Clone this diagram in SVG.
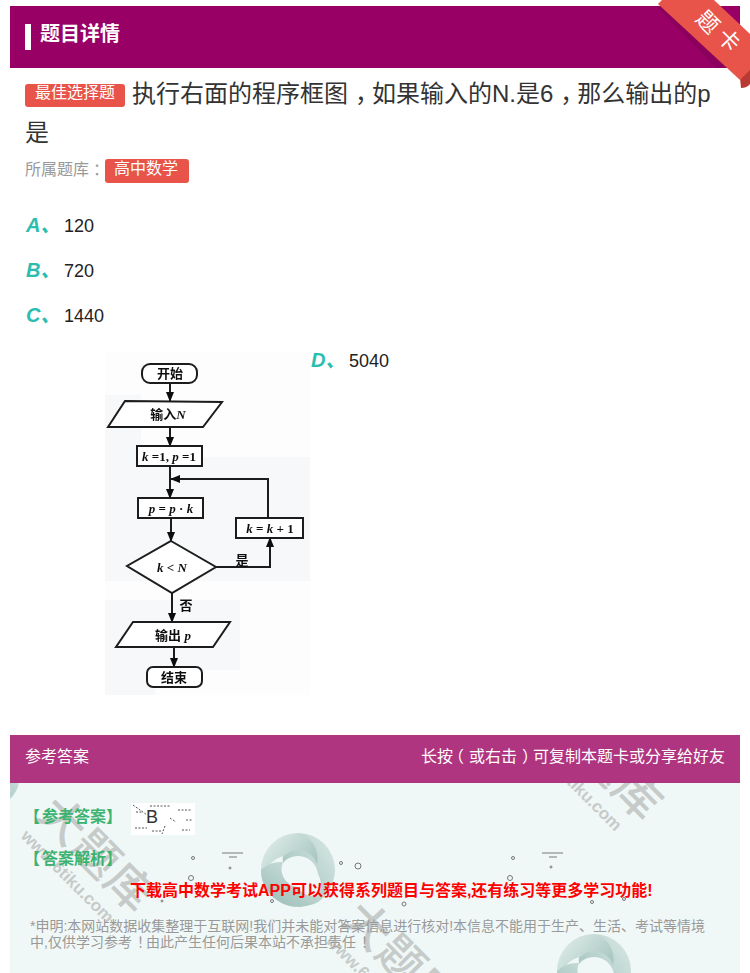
<svg xmlns="http://www.w3.org/2000/svg" width="750" height="973" viewBox="0 0 750 973">
<style>
text{font-family:"Liberation Sans","Noto Sans CJK SC",sans-serif}
.opt{font-size:20px;font-weight:bold;font-style:italic;fill:#2bbdb0}
.val{font-size:18px;fill:#222}
.fc{font-family:"Liberation Serif","Noto Sans CJK SC",serif;font-size:13px;font-weight:bold;fill:#111;text-anchor:middle}
.sh{fill:#fff;stroke:#1d1d1d;stroke-width:2}
.cn{fill:none;stroke:#1d1d1d;stroke-width:2}
.grn{font-size:16px;font-weight:bold;fill:#3cb371}
.gry{font-size:14px;fill:#999}
.wm{fill:#c6cbca}
</style>
<defs>
<marker id="ah" viewBox="0 0 10 10" refX="9" refY="5" markerWidth="10" markerHeight="10" markerUnits="userSpaceOnUse" orient="auto"><path d="M0 1L10 5L0 9z" fill="#111"/></marker>
<filter id="soft" x="-5%" y="-5%" width="110%" height="110%"><feGaussianBlur stdDeviation="0.55"/></filter>
<linearGradient id="lg1" x1="0" y1="0" x2="1" y2="1"><stop offset="0" stop-color="#e4f1ee"/><stop offset="1" stop-color="#8fb3ac"/></linearGradient>
<linearGradient id="lg2" x1="1" y1="0" x2="0" y2="1"><stop offset="0" stop-color="#dbeae7"/><stop offset="1" stop-color="#97bab3"/></linearGradient>
<clipPath id="panel"><rect x="10" y="783" width="730" height="190"/></clipPath>
<clipPath id="hdr"><rect x="10" y="6" width="730" height="62"/></clipPath>
<g id="logo">
<path d="M0-37A37 37 0 0 1 37 0A37 37 0 0 1 8 36A22 22 0 0 0 20 4A20 20 0 0 0 -15-7A30 30 0 0 1 0-37z" fill="url(#lg2)"/>
<path d="M0-37A37 37 0 0 0 -37 0A37 37 0 0 0 -22 30A24 24 0 0 1 -14-14A20 20 0 0 1 19-6A26 26 0 0 0 0-37z" fill="url(#lg1)"/>
<path d="M-37 0A37 37 0 0 0 8 36A30 30 0 0 0 30 22A22 22 0 0 1 -1 17A18 18 0 0 1 -15-8A28 28 0 0 0 -37 0z" fill="url(#lg2)"/>
</g>
<g id="wmk">
<text class="wm" font-size="46" font-weight="500" transform="rotate(45 35 816)" x="35" y="816" letter-spacing="1">大题库</text>
<text class="wm" font-size="17" font-weight="bold" transform="rotate(45 20 837)" x="20" y="837">www.6tiku.com</text>
</g>
</defs>

<rect width="750" height="973" fill="#fff"/>

<g id="header">
<rect x="10" y="6" width="730" height="62" fill="#990066"/>
<rect x="25" y="24" width="6" height="26" fill="#fff"/>
<text x="40" y="41" font-size="20" font-weight="bold" fill="#fff">题目详情</text>
</g>

<g id="question">
<rect x="25" y="84" width="100" height="23" rx="3" fill="#e8534a"/>
<text x="35" y="98" font-size="16" fill="#fff">最佳选择题</text>
<text x="132" y="102" font-size="24" fill="#333">执行右面的程序框图<tspan dx="7" letter-spacing="-7">，</tspan>如果输入的N.是6<tspan dx="7" letter-spacing="-7">，</tspan>那么输出的p</text>
<text x="25" y="141" font-size="24" fill="#333">是</text>
<text x="25" y="175" font-size="16" fill="#999">所属题库<tspan dx="4">：</tspan></text>
<rect x="105" y="159" width="84" height="24" rx="3" fill="#e8534a"/>
<text x="114" y="174" font-size="16" fill="#fff">高中数学</text>
</g>

<g id="options">
<text class="opt" x="26" y="232">A、</text><text class="val" x="64" y="232">120</text>
<text class="opt" x="26" y="277">B、</text><text class="val" x="64" y="277">720</text>
<text class="opt" x="26" y="322">C、</text><text class="val" x="64" y="322">1440</text>
<text class="opt" x="311" y="367">D、</text><text class="val" x="349" y="367">5040</text>
</g>

<g id="flow-photo" fill="#f6f8f9" filter="url(#soft)">
<rect x="105" y="352" width="205" height="343" fill="#fdfdfe"/>
<rect x="105" y="457" width="205" height="124"/>
<rect x="105" y="395" width="36" height="70"/>
<rect x="130" y="600" width="110" height="70"/>
<rect x="105" y="600" width="50" height="95"/>
</g>

<g id="flowchart" filter="url(#soft)">
<g id="connectors">
<path class="cn" d="M170 383V401" marker-end="url(#ah)"/>
<path class="cn" d="M170 427V446" marker-end="url(#ah)"/>
<path class="cn" d="M170 466V498" marker-end="url(#ah)"/>
<path class="cn" d="M171 518V541" marker-end="url(#ah)"/>
<path class="cn" d="M172 593V622" marker-end="url(#ah)"/>
<path class="cn" d="M174 647V667" marker-end="url(#ah)"/>
<path class="cn" d="M216 567H270V538" marker-end="url(#ah)"/>
<path class="cn" d="M268 518V479H171" marker-end="url(#ah)"/>
</g>
<g id="n-start"><rect class="sh" x="142" y="364" width="55" height="19" rx="8"/><text class="fc" x="170" y="378">开始</text></g>
<g id="n-input"><polygon class="sh" points="125,401 222,402 203,427 108,427"/><text class="fc" x="168" y="419">输入<tspan font-style="italic">N</tspan></text></g>
<g id="n-init"><rect class="sh" x="137" y="446" width="65" height="20"/><text class="fc" x="169" y="461"><tspan font-style="italic">k</tspan> =1, <tspan font-style="italic">p</tspan> =1</text></g>
<g id="n-mult"><rect class="sh" x="138" y="498" width="65" height="20"/><text class="fc" x="171" y="513"><tspan font-style="italic">p</tspan> = <tspan font-style="italic">p</tspan> · <tspan font-style="italic">k</tspan></text></g>
<g id="n-inc"><rect class="sh" x="236" y="518" width="67" height="20"/><text class="fc" x="270" y="533" font-weight="normal" fill="#666"><tspan font-style="italic">k</tspan> = <tspan font-style="italic">k</tspan> + 1</text></g>
<g id="n-cond"><polygon class="sh" points="171,541 216,567 172,593 127,566"/><text class="fc" x="172" y="572"><tspan font-style="italic">k</tspan> &lt; <tspan font-style="italic">N</tspan></text></g>
<g id="n-output"><polygon class="sh" points="133,622 230,622 213,647 116,647"/><text class="fc" x="173" y="640">输出 <tspan font-style="italic">p</tspan></text></g>
<g id="n-end"><rect class="sh" x="147" y="667" width="55" height="20" rx="6"/><text class="fc" x="174" y="682">结束</text></g>
<text class="fc" x="242" y="565">是</text>
<text class="fc" x="186" y="610">否</text>
</g>

<g id="answer">
<rect x="10" y="783" width="730" height="190" fill="#f0f8f7"/>
<g clip-path="url(#panel)">
<use href="#logo" transform="translate(-4 780) scale(.62)"/>
<use href="#logo" transform="translate(298 870)"/>
<use href="#logo" transform="translate(594 971)"/>
<use href="#wmk"/>
<use href="#wmk" transform="translate(508 -92)"/>
<use href="#wmk" transform="translate(305 105)"/>
</g>
<rect x="10" y="735" width="730" height="48" fill="#b03580"/>
<text x="25" y="762" font-size="16" fill="#fff">参考答案</text>
<text x="725" y="762" font-size="16" fill="#fff" text-anchor="end">长<tspan letter-spacing="-5">按</tspan><tspan letter-spacing="5">（</tspan>或右击<tspan dx="5" letter-spacing="-5">）</tspan>可复制本题卡或分享给好友</text>
<text class="grn" x="24" y="822">【<tspan dx="2">参考答案】</tspan></text>
<rect x="131" y="803" width="64" height="32" fill="#fff"/>
<path d="M133 805l14 10M150 806h20M165 826l-3 8M135 828h12M178 810h14M170 818l6 4M182 830h8M136 812h6M152 831h10M186 820h6" stroke="#555" stroke-width="1" fill="none" stroke-dasharray="2 1.5"/>
<text x="146" y="823" font-size="18" fill="#333">B</text>
<text class="grn" x="24" y="864">【<tspan dx="2">答案解析】</tspan></text>
<g fill="none" stroke="#777" stroke-width="1">
<circle cx="193" cy="858" r="1.5"/><circle cx="191" cy="878" r="2.5"/><path d="M222 853h21M229 857h8"/><circle cx="513" cy="858" r="1.5"/><circle cx="510" cy="878" r="2.5"/><path d="M542 853h21M549 857h8"/><circle cx="341" cy="863" r="1.5"/><circle cx="358" cy="866" r="3"/><circle cx="230" cy="868" r="1"/><circle cx="551" cy="867" r="1"/><circle cx="162" cy="901" r="1"/><circle cx="272" cy="901" r="1.5"/><circle cx="404" cy="904" r="2"/><circle cx="592" cy="902" r="1.5"/><circle cx="624" cy="899" r="1.5"/>
</g>
<text x="130" y="896" font-size="16" font-weight="bold" fill="#f00">下载高中数学考试APP可以获得系列题目与答案,还有练习等更多学习功能!</text>
<text class="gry" x="30" y="931">*申明:本网站数据收集整理于互联网!我们并未能对答案信息进行核对!本信息不能用于生产、生活、考试等情境</text>
<text class="gry" x="30" y="947">中,仅供学习参考<tspan dx="5" letter-spacing="-5">！</tspan>由此产生任何后果本站不承担责任<tspan dx="5">！</tspan></text>
</g>

<g id="ribbon">
<polygon points="656,6 668,6 732,68 716,68" fill="#7d0053" opacity=".45" clip-path="url(#hdr)"/>
<path d="M740 78L750 68V84Q747 88 741 88z" fill="#b83a32"/>
<polygon points="658,4 662,0 714,0 750,34 750,70 740,80" fill="#e8534a"/>
<text x="708" y="30" font-size="22" fill="#fff" text-anchor="middle" transform="rotate(45 708 22)">题</text>
<text x="729" y="48" font-size="22" fill="#fff" text-anchor="middle" transform="rotate(45 729 40)">卡</text>
</g>
</svg>
